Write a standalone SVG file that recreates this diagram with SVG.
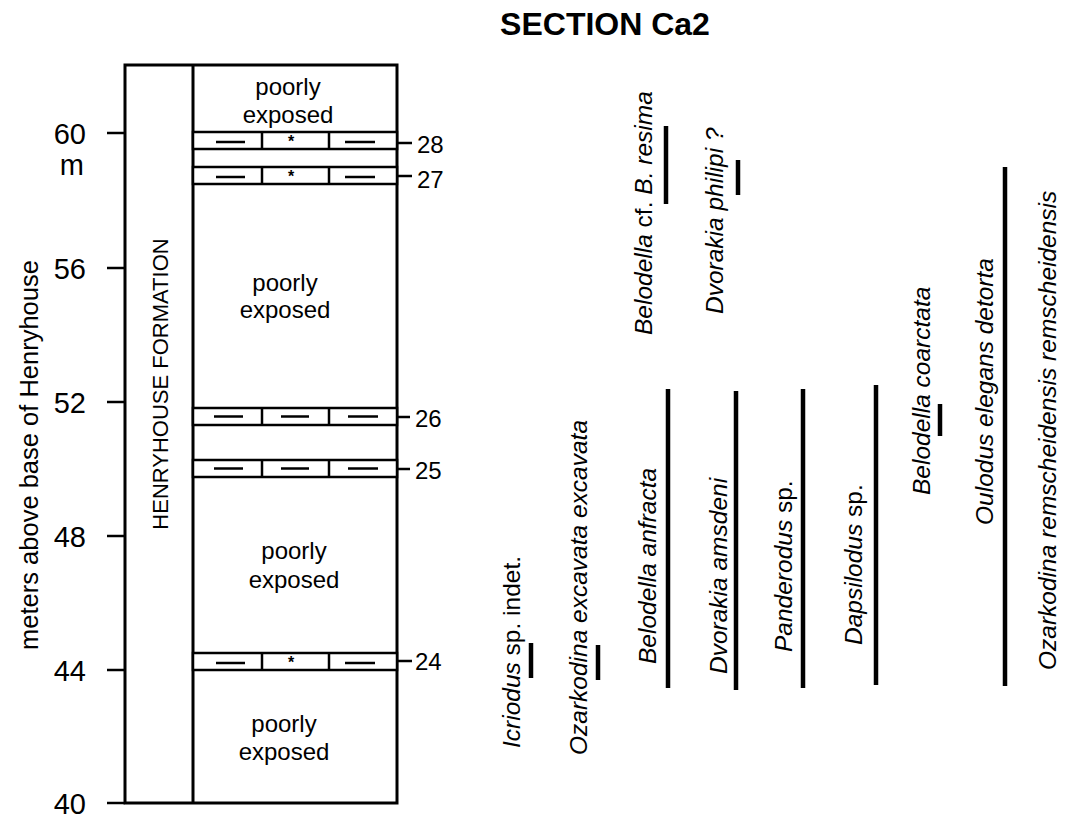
<svg xmlns="http://www.w3.org/2000/svg" width="1069" height="820" viewBox="0 0 1069 820">
<style>
text{font-family:"Liberation Sans",Arial,Helvetica,sans-serif;fill:#000}
.title{font-size:32px;font-weight:bold}
.tick{font-size:29px}
.bedno{font-size:24px}
.axlab{font-size:25.5px}
.form{font-size:22px}
.lith{font-size:24px}
.tax{font-size:24.5px}
.it{font-style:italic}
.frame{fill:none;stroke:#000;stroke-width:3}
.bed{fill:#fff;stroke:#000;stroke-width:2.5}
.dash{stroke:#000;stroke-width:2.5}
.bar{stroke:#000;stroke-width:4.5}
.ln{stroke:#000;stroke-width:2.5}
.star{font-size:16px;font-weight:bold}
</style>
<defs>
<g id="bedDash">
<rect class="bed" x="193" y="0" width="204" height="17"/>
<line class="ln" x1="262" y1="0" x2="262" y2="17"/>
<line class="ln" x1="329" y1="0" x2="329" y2="17"/>
<line class="dash" x1="214" y1="8.5" x2="243" y2="8.5"/>
<line class="dash" x1="281" y1="8.5" x2="309" y2="8.5"/>
<line class="dash" x1="348" y1="8.5" x2="378" y2="8.5"/>
</g>
<g id="bedStar">
<rect class="bed" x="193" y="0" width="204" height="17"/>
<line class="ln" x1="262" y1="0" x2="262" y2="17"/>
<line class="ln" x1="329" y1="0" x2="329" y2="17"/>
<line class="dash" x1="216" y1="10" x2="245" y2="10"/>
<line class="dash" x1="345" y1="10" x2="375" y2="10"/>
<text class="star" x="288" y="15">*</text>
</g>
</defs>
<text class="title" x="605" y="35" text-anchor="middle">SECTION Ca2</text>

<g id="axis">
<line class="ln" x1="107" y1="133" x2="125" y2="133"/>
<line class="ln" x1="107" y1="268" x2="125" y2="268"/>
<line class="ln" x1="107" y1="402" x2="125" y2="402"/>
<line class="ln" x1="107" y1="536" x2="125" y2="536"/>
<line class="ln" x1="107" y1="670" x2="125" y2="670"/>
<line class="ln" x1="107" y1="803" x2="125" y2="803"/>
<text class="tick" x="86" y="144" text-anchor="end">60</text>
<text class="tick" x="84" y="175" text-anchor="end">m</text>
<text class="tick" x="86" y="279" text-anchor="end">56</text>
<text class="tick" x="86" y="413" text-anchor="end">52</text>
<text class="tick" x="86" y="547" text-anchor="end">48</text>
<text class="tick" x="86" y="681" text-anchor="end">44</text>
<text class="tick" x="86" y="814" text-anchor="end">40</text>
<text class="axlab" transform="translate(38,455) rotate(-90)" text-anchor="middle">meters above base of Henryhouse</text>
</g>

<g id="column">
<rect class="frame" x="125" y="65" width="272" height="738"/>
<line class="ln" x1="193" y1="65" x2="193" y2="803" style="stroke-width:3"/>
<text class="form" transform="translate(168,384) rotate(-90)" text-anchor="middle">HENRYHOUSE FORMATION</text>
</g>

<g id="unit-top">
<text class="lith" x="288" y="95" text-anchor="middle">poorly</text>
<text class="lith" x="288" y="123" text-anchor="middle">exposed</text>
</g>
<g id="unit-upper">
<text class="lith" x="285" y="291" text-anchor="middle">poorly</text>
<text class="lith" x="285" y="318" text-anchor="middle">exposed</text>
</g>
<g id="unit-lower">
<text class="lith" x="294" y="559" text-anchor="middle">poorly</text>
<text class="lith" x="294" y="588" text-anchor="middle">exposed</text>
</g>
<g id="unit-bottom">
<text class="lith" x="284" y="732" text-anchor="middle">poorly</text>
<text class="lith" x="284" y="760" text-anchor="middle">exposed</text>
</g>

<g id="bed28"><use href="#bedStar" transform="translate(0,132)"/></g>
<g id="bed27"><use href="#bedStar" transform="translate(0,167)"/></g>
<g id="bed26"><use href="#bedDash" transform="translate(0,408)"/></g>
<g id="bed25"><use href="#bedDash" transform="translate(0,460)"/></g>
<g id="bed24"><use href="#bedStar" transform="translate(0,653)"/></g>

<g id="connectors">
<line class="ln" x1="397" y1="143" x2="412" y2="143"/>
<line class="ln" x1="397" y1="176" x2="412" y2="176"/>
<line class="ln" x1="397" y1="417" x2="410" y2="417"/>
<line class="ln" x1="397" y1="469" x2="410" y2="469"/>
<line class="ln" x1="397" y1="661" x2="412" y2="661"/>
</g>
<g id="bed-labels">
<text class="bedno" x="417" y="153">28</text>
<text class="bedno" x="417" y="188">27</text>
<text class="bedno" x="415" y="427">26</text>
<text class="bedno" x="415" y="479">25</text>
<text class="bedno" x="415" y="670">24</text>
</g>

<g id="taxon-icriodus">
<line class="bar" x1="531" y1="643" x2="531" y2="678"/>
<text class="tax" transform="translate(520,748) rotate(-90)"><tspan class="it">Icriodus</tspan> sp. indet.</text>
</g>
<g id="taxon-ozarkodina-excavata">
<line class="bar" x1="598" y1="645" x2="598" y2="680"/>
<text class="tax it" transform="translate(587,755) rotate(-90)">Ozarkodina excavata excavata</text>
</g>
<g id="taxon-belodella-anfracta">
<line class="bar" x1="668" y1="389" x2="668" y2="688"/>
<text class="tax it" transform="translate(656,664) rotate(-90)">Belodella anfracta</text>
</g>
<g id="taxon-dvorakia-amsdeni">
<line class="bar" x1="736" y1="391" x2="736" y2="690"/>
<text class="tax it" transform="translate(727,674) rotate(-90)">Dvorakia amsdeni</text>
</g>
<g id="taxon-panderodus">
<line class="bar" x1="803" y1="389" x2="803" y2="688"/>
<text class="tax" transform="translate(792,652) rotate(-90)"><tspan class="it">Panderodus</tspan> sp.</text>
</g>
<g id="taxon-dapsilodus">
<line class="bar" x1="876" y1="385" x2="876" y2="685"/>
<text class="tax" transform="translate(862,645) rotate(-90)"><tspan class="it">Dapsilodus</tspan> sp.</text>
</g>
<g id="taxon-belodella-coarctata">
<line class="bar" x1="940" y1="404" x2="940" y2="436"/>
<text class="tax it" transform="translate(930,495) rotate(-90)">Belodella coarctata</text>
</g>
<g id="taxon-oulodus">
<line class="bar" x1="1005" y1="167" x2="1005" y2="686"/>
<text class="tax it" transform="translate(993,525) rotate(-90)">Oulodus elegans detorta</text>
</g>
<g id="taxon-ozarkodina-remscheidensis">
<text class="tax it" transform="translate(1056,670) rotate(-90)">Ozarkodina remscheidensis remscheidensis</text>
</g>
<g id="taxon-belodella-resima">
<line class="bar" x1="666" y1="126" x2="666" y2="204"/>
<text class="tax" transform="translate(652,335) rotate(-90)"><tspan class="it">Belodella</tspan> cf. <tspan class="it">B. resima</tspan></text>
</g>
<g id="taxon-dvorakia-philipi">
<line class="bar" x1="738" y1="160" x2="738" y2="195"/>
<text class="tax it" transform="translate(723,314) rotate(-90)">Dvorakia philipi ?</text>
</g>
</svg>
